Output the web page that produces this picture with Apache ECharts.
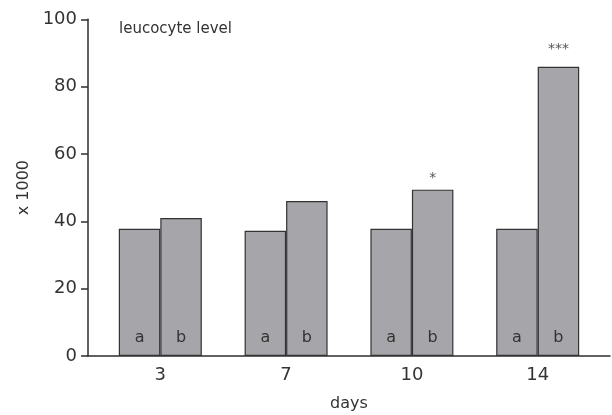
<!DOCTYPE html>
<html>
<head>
<meta charset="utf-8">
<script src="https://cdn.jsdelivr.net/npm/echarts@6/dist/echarts.min.js"></script>
<style>html,body{margin:0;padding:0;background:#fff}#c{width:612px;height:415px}</style>
</head>
<body>
<div id="c"></div>
<script>
const days = ['3', '7', '10', '14'];
const seriesA = [37.8, 37.2, 37.8, 37.8];
const seriesB = [41.0, 46.0, 49.4, 85.9];
const significance = ['', '', '*', '***'];
const yTicks = [0, 20, 40, 60, 80, 100];

const chart = echarts.init(document.getElementById('c'), null, {renderer: 'canvas'});
const FONT = 'DejaVu Sans, sans-serif';
const TXT = '#333';
const AX = '#2e2e2e';
const gridTop = 19.3, gridBottom = 59;

const option = {
  animation: false,
  title: {
    text: 'leucocyte level', left: 114, top: 17,
    textStyle: {fontFamily: FONT, fontSize: 15, fontWeight: 'normal', color: TXT}
  },
  grid: [
    {left: 88, right: 2, top: gridTop, bottom: gridBottom, containLabel: false, outerBoundsMode: 'none'},
    {left: 97.4, right: 11.4, top: gridTop, bottom: gridBottom, containLabel: false, outerBoundsMode: 'none'}
  ],
  xAxis: [
    {gridIndex: 0, type: 'value', min: 0, max: 1, show: true,
      axisLine: {show: true, onZero: false, lineStyle: {color: AX, width: 1.5}},
      axisTick: {show: false}, axisLabel: {show: false}, splitLine: {show: false}},
    {gridIndex: 1, type: 'category', data: days,
      axisLine: {show: false}, axisTick: {show: false},
      axisLabel: {fontFamily: FONT, fontSize: 18, color: TXT, margin: 10},
      name: 'days', nameLocation: 'middle', nameGap: 40,
      nameTextStyle: {fontFamily: FONT, fontSize: 16, color: TXT}}
  ],
  yAxis: [
    {gridIndex: 0, type: 'value', min: 0, max: 100, interval: 20,
      axisLine: {show: true, lineStyle: {color: AX, width: 1.5}},
      axisTick: {show: true, inside: false, length: 7, lineStyle: {color: AX, width: 1.5}},
      axisLabel: {fontFamily: FONT, fontSize: 18, color: TXT, margin: 11,
        formatter: v => yTicks.includes(v) ? String(v) : ''},
      splitLine: {show: false},
      name: 'x 1000', nameLocation: 'middle', nameGap: 50, nameRotate: 90,
      nameTextStyle: {fontFamily: FONT, fontSize: 16, color: TXT}},
    {gridIndex: 1, type: 'value', min: 0, max: 100, interval: 20, show: false}
  ],
  series: [
    {type: 'bar', name: 'a', xAxisIndex: 1, yAxisIndex: 1, data: seriesA,
      barWidth: 41.5, barGap: '0%',
      itemStyle: {color: '#a6a6aa', borderColor: '#333', borderWidth: 1.2},
      label: {show: true, position: 'insideBottom', distance: 10, formatter: 'a',
        fontFamily: FONT, fontSize: 16, color: TXT}},
    {type: 'bar', name: 'b', xAxisIndex: 1, yAxisIndex: 1, data: seriesB,
      barWidth: 41.5, barGap: '0%',
      itemStyle: {color: '#a6a6aa', borderColor: '#333', borderWidth: 1.2},
      label: {show: true, position: 'insideBottom', distance: 10, formatter: 'b',
        fontFamily: FONT, fontSize: 16, color: TXT},
      markPoint: {
        symbol: 'circle', symbolSize: 0,
        label: {show: true, position: 'top', distance: 4, fontFamily: FONT, fontSize: 14, color: '#555',
          formatter: p => p.name},
        data: seriesB.map((v, i) => ({
          name: significance[i], coord: [i, v],
          label: {distance: significance[i].length > 1 ? 10 : 4}
        })).filter(d => d.name)
      }}
  ]
};
chart.setOption(option);
</script>
</body>
</html>
